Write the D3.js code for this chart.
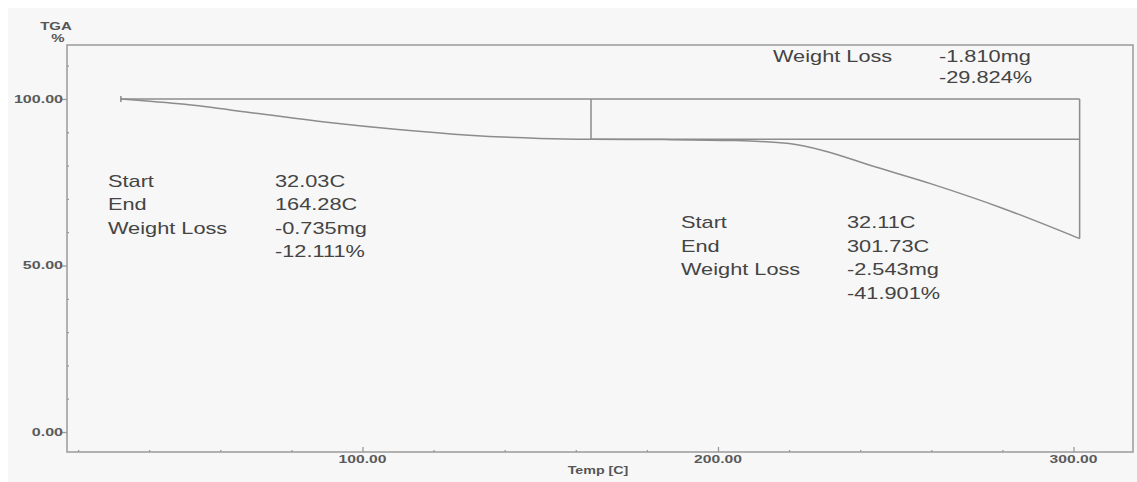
<!DOCTYPE html>
<html>
<head>
<meta charset="utf-8">
<script src="https://cdn.jsdelivr.net/npm/d3@7"></script>
<style>
  html, body { margin: 0; padding: 0; background: #ffffff; }
  svg { display: block; }
  text { font-family: Arial, "Liberation Sans", sans-serif; }
</style>
</head>
<body>
<svg id="chart" width="1137" height="482"></svg>
<script>
// TGA curve: temperature (C) vs remaining weight (%)
const tempC     = [32.03, 50, 70, 90, 110, 130, 150, 164.28, 185, 205, 220, 230, 243, 260, 280, 301.73];
const weightPct = [100, 98.4, 95.7, 93.0, 90.8, 89.1, 88.15, 87.889, 87.8, 87.5, 86.6, 84.4, 80.0, 74.5, 67.2, 58.065];

// Step analyses
const step1 = { start: 32.03, end: 164.28, startW: 100, endW: 87.889 };
const step2 = { start: 164.28, end: 301.73, startW: 87.889, endW: 58.065 };
const total = { start: 32.03, end: 301.73, startW: 100, endW: 58.065 };

// Axis ticks
const xMajor = [100, 200, 300];
const xMinor = [20, 40, 60, 80, 120, 140, 160, 180, 220, 240, 260, 280];
const yMajor = [0, 50, 100];
const yMinor = [10, 20, 30, 40, 60, 70, 80, 90, 110];

// Annotation text blocks
const leftLabels  = ["Start", "End", "Weight Loss", ""];
const leftValues  = ["32.03C", "164.28C", "-0.735mg", "-12.111%"];
const rightLabels = ["Start", "End", "Weight Loss", ""];
const rightValues = ["32.11C", "301.73C", "-2.543mg", "-41.901%"];
const topLabels   = ["Weight Loss", ""];
const topValues   = ["-1.810mg", "-29.824%"];

const svg = d3.select("#chart");
const SX = 1.36; // horizontal stretch of the instrument's text

const x = d3.scaleLinear().domain([16.88, 316.74]).range([67, 1133]);
const y = d3.scaleLinear().domain([-6.0, 116.2]).range([452, 45]);

const lineColor = "#8c8c8c";
const frameColor = "#9a9a9a";
const textColor = "#444";

// page background
svg.append("rect").attr("x", 8).attr("y", 8).attr("width", 1129).attr("height", 474)
  .attr("fill", "#f7f7f7");

function stretchedText(g, tx, ty, str, opts) {
  const t = g.append("text")
    .attr("transform", `translate(${tx},${ty}) scale(${SX},1)`)
    .attr("font-size", opts.size)
    .attr("fill", opts.fill || textColor)
    .attr("text-anchor", opts.anchor || "start")
    .text(str);
  if (opts.weight) t.attr("font-weight", opts.weight);
  return t;
}

// frame
svg.append("rect")
  .attr("x", x.range()[0]).attr("y", y.range()[1])
  .attr("width", x.range()[1] - x.range()[0])
  .attr("height", y.range()[0] - y.range()[1])
  .attr("fill", "none").attr("stroke", frameColor).attr("stroke-width", 1.5);

// x axis ticks (pointing into plot)
const xAxisMajor = d3.axisBottom(x).tickValues(xMajor).tickSize(-5).tickFormat("");
const xAxisMinor = d3.axisBottom(x).tickValues(xMinor).tickSize(-2).tickFormat("");
[xAxisMajor, xAxisMinor].forEach(ax => {
  const g = svg.append("g").attr("transform", `translate(0,${y.range()[0]})`).call(ax);
  g.select(".domain").remove();
  g.selectAll("line").attr("stroke", frameColor).attr("stroke-width", 1.3);
});
const xl = svg.append("g");
xMajor.forEach(v => stretchedText(xl, x(v), 463, d3.format(".2f")(v),
  { size: 11.5, anchor: "middle", fill: "#5a5a5a", weight: "bold" }));

// y axis ticks: majors outward, minors inward
const yAxisMajor = d3.axisLeft(y).tickValues(yMajor).tickSize(5).tickFormat("");
const yAxisMinor = d3.axisLeft(y).tickValues(yMinor).tickSize(-2).tickFormat("");
[yAxisMajor, yAxisMinor].forEach(ax => {
  const g = svg.append("g").attr("transform", `translate(${x.range()[0]},0)`).call(ax);
  g.select(".domain").remove();
  g.selectAll("line").attr("stroke", frameColor).attr("stroke-width", 1.3);
});
const yl = svg.append("g");
yMajor.forEach(v => stretchedText(yl, 63, y(v) + 4, d3.format(".2f")(v),
  { size: 11.8, anchor: "end", fill: "#5a5a5a", weight: "bold" }));

// axis titles
stretchedText(svg, 56, 30, "TGA", { size: 11, anchor: "middle", fill: "#555", weight: "bold" });
stretchedText(svg, 58, 42, "%", { size: 11, anchor: "middle", fill: "#555", weight: "bold" });
stretchedText(svg, 598, 474, "Temp  [C]", { size: 10.5, anchor: "middle", fill: "#555", weight: "bold" });

// step analysis construction lines
const marks = svg.append("g").attr("fill", "none").attr("stroke", lineColor).attr("stroke-width", 1.5);
// start marker
marks.append("line").attr("x1", x(total.start)).attr("x2", x(total.start))
  .attr("y1", y(total.startW) - 3).attr("y2", y(total.startW) + 3);
// baseline at starting weight
marks.append("line").attr("x1", x(total.start)).attr("x2", x(total.end))
  .attr("y1", y(total.startW)).attr("y2", y(total.startW));
// step 1 end drop
marks.append("line").attr("x1", x(step1.end)).attr("x2", x(step1.end))
  .attr("y1", y(step1.startW)).attr("y2", y(step1.endW));
// level at step 1 end weight
marks.append("line").attr("x1", x(step2.start)).attr("x2", x(step2.end))
  .attr("y1", y(step2.startW)).attr("y2", y(step2.startW));
// final drop
marks.append("line").attr("x1", x(total.end)).attr("x2", x(total.end))
  .attr("y1", y(total.startW)).attr("y2", y(total.endW));

// TGA curve
const line = d3.line().x(d => x(d[0])).y(d => y(d[1])).curve(d3.curveMonotoneX);
svg.append("path")
  .datum(tempC.map((t, i) => [t, weightPct[i]]))
  .attr("d", line)
  .attr("fill", "none").attr("stroke", lineColor).attr("stroke-width", 1.5);

// annotation blocks
function block(labels, values, lx, vx, y0, dy) {
  const g = svg.append("g");
  labels.forEach((s, i) => { if (s) stretchedText(g, lx, y0 + i * dy, s, { size: 16 }); });
  values.forEach((s, i) => stretchedText(g, vx, y0 + i * dy, s, { size: 16 }));
}
block(leftLabels, leftValues, 108, 275, 187, 23.3);
block(rightLabels, rightValues, 681, 847, 228, 23.7);
block(topLabels, topValues, 773, 939, 62, 21);
</script>
</body>
</html>
